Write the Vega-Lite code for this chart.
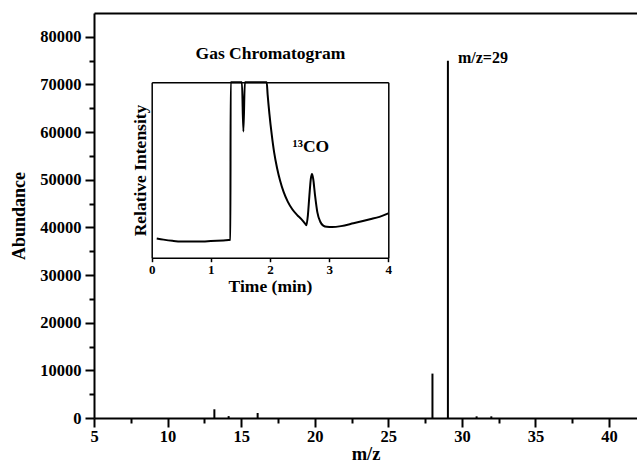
{
  "$schema": "https://vega.github.io/schema/vega-lite/v6.json",
  "autosize": "none",
  "width": 543,
  "height": 405,
  "padding": {"left": 94, "top": 13, "right": 0, "bottom": 51},
  "background": "white",
  "config": {
    "font": "Liberation Serif",
    "view": {"stroke": null},
    "axis": {
      "labelFont": "Liberation Serif",
      "titleFont": "Liberation Serif",
      "labelFontWeight": "bold",
      "titleFontWeight": "bold",
      "labelColor": "black",
      "titleColor": "black",
      "domainColor": "black",
      "tickColor": "black",
      "grid": false,
      "labelOverlap": false,
      "labelFlush": false
    }
  },
  "datasets": {
    "spectrum": [
      {"mz": 13.18, "abundance": 1830},
      {"mz": 14.15, "abundance": 400},
      {"mz": 16.12, "abundance": 1050},
      {"mz": 28.0, "abundance": 9320},
      {"mz": 29.05, "abundance": 75000},
      {"mz": 31.0, "abundance": 350},
      {"mz": 32.0, "abundance": 350}
    ],
    "chromatogram": [
      {"t": 0.085, "i": 11.0},
      {"t": 0.2, "i": 10.3},
      {"t": 0.35, "i": 9.6},
      {"t": 0.5, "i": 9.2},
      {"t": 0.7, "i": 9.2},
      {"t": 0.9, "i": 9.3},
      {"t": 1.1, "i": 9.6},
      {"t": 1.3, "i": 10.1},
      {"t": 1.33, "i": 10.2},
      {"t": 1.335, "i": 100},
      {"t": 1.525, "i": 100},
      {"t": 1.55, "i": 72},
      {"t": 1.575, "i": 100},
      {"t": 1.944, "i": 100},
      {"t": 1.96, "i": 93},
      {"t": 1.99, "i": 82},
      {"t": 2.03, "i": 70},
      {"t": 2.07, "i": 60},
      {"t": 2.12, "i": 51},
      {"t": 2.17, "i": 44},
      {"t": 2.23, "i": 37.5},
      {"t": 2.3, "i": 32},
      {"t": 2.38, "i": 27.5},
      {"t": 2.46, "i": 24.3},
      {"t": 2.53, "i": 22},
      {"t": 2.59, "i": 19.6},
      {"t": 2.615, "i": 18.5},
      {"t": 2.64, "i": 24},
      {"t": 2.665, "i": 35},
      {"t": 2.69, "i": 45},
      {"t": 2.71, "i": 47.7},
      {"t": 2.73, "i": 45},
      {"t": 2.76, "i": 36},
      {"t": 2.8, "i": 26},
      {"t": 2.85, "i": 20.5},
      {"t": 2.9, "i": 18.3},
      {"t": 2.96, "i": 17.6},
      {"t": 3.05, "i": 17.5},
      {"t": 3.2, "i": 18.0},
      {"t": 3.41, "i": 19.6},
      {"t": 3.69, "i": 21.9},
      {"t": 3.85, "i": 23.3},
      {"t": 4.0, "i": 25.3}
    ]
  },
  "resolve": {"scale": {"x": "independent", "y": "independent"}, "axis": {"x": "independent", "y": "independent"}},
  "layer": [
    {
      "data": {"name": "spectrum"},
      "mark": {"type": "rule", "color": "black", "strokeWidth": 2},
      "encoding": {
        "x": {
          "field": "mz", "type": "quantitative",
          "scale": {"domain": [5, 41.9], "nice": false, "zero": false},
          "axis": {
            "orient": "bottom",
            "values": [5, 7.5, 10, 12.5, 15, 17.5, 20, 22.5, 25, 27.5, 30, 32.5, 35, 37.5, 40],
            "format": "d",
            "labelExpr": "datum.value % 5 === 0 ? datum.label : ''",
            "tickSize": {"condition": {"test": "datum.value % 5 === 0", "value": 9}, "value": 5},
            "tickWidth": 2,
            "domainWidth": 2,
            "labelFontSize": 16.5,
            "labelPadding": 1,
            "title": "m/z",
            "titleFontSize": 18.5,
            "titlePadding": 0
          }
        },
        "y": {
          "field": "abundance", "type": "quantitative",
          "scale": {"domain": [0, 85000], "nice": false},
          "axis": {
            "orient": "left",
            "values": [0, 5000, 10000, 15000, 20000, 25000, 30000, 35000, 40000, 45000, 50000, 55000, 60000, 65000, 70000, 75000, 80000],
            "format": "d",
            "labelExpr": "datum.value % 10000 === 0 ? datum.label : ''",
            "tickSize": {"condition": {"test": "datum.value % 10000 === 0", "value": 9}, "value": 5},
            "tickWidth": 2,
            "domainWidth": 2,
            "labelFontSize": 16.5,
            "labelPadding": 4,
            "title": "Abundance",
            "titleFontSize": 18,
            "titlePadding": 11
          }
        },
        "y2": {"datum": 0}
      }
    },
    {
      "data": {"values": [{}]},
      "mark": {"type": "text", "text": "m/z=29", "align": "left", "baseline": "alphabetic", "dx": 10, "dy": 2, "font": "Liberation Serif", "fontWeight": "bold", "fontSize": 16, "color": "black"},
      "encoding": {
        "x": {
          "datum": 29.05, "type": "quantitative",
          "scale": {"domain": [5, 41.9], "nice": false, "zero": false},
          "axis": {"orient": "top", "ticks": false, "labels": false, "title": null, "domainWidth": 2}
        },
        "y": {
          "datum": 75000, "type": "quantitative",
          "scale": {"domain": [0, 85000], "nice": false},
          "axis": null
        }
      }
    },
    {
      "data": {"name": "chromatogram"},
      "mark": {"type": "line", "color": "black", "strokeWidth": 2, "interpolate": "monotone"},
      "encoding": {
        "x": {
          "field": "t", "type": "quantitative",
          "scale": {"domain": [0, 4], "range": [57.7, 294.3], "nice": false, "zero": false},
          "axis": {
            "orient": "bottom",
            "offset": -160.3,
            "values": [0, 0.5, 1, 1.5, 2, 2.5, 3, 3.5, 4],
            "format": "d",
            "labelExpr": "datum.value % 1 === 0 ? datum.label : ''",
            "tickSize": {"condition": {"test": "datum.value % 1 === 0", "value": 4}, "value": 3},
            "tickWidth": 1.5,
            "domainWidth": 1.5,
            "labelFontSize": 13,
            "labelPadding": 2,
            "title": "Time (min)",
            "titleFontSize": 17.5,
            "titlePadding": 1
          }
        },
        "y": {
          "field": "i", "type": "quantitative",
          "scale": {"domain": [0, 100], "range": [244.7, 69.3], "nice": false},
          "axis": {
            "orient": "left",
            "offset": -57.7,
            "ticks": false,
            "labels": false,
            "domainWidth": 1.5,
            "title": "Relative Intensity",
            "titleFontSize": 17.5,
            "titlePadding": 2
          }
        }
      }
    },
    {
      "data": {"values": [{}]},
      "mark": {"type": "text", "text": "¹³CO", "align": "left", "baseline": "alphabetic", "font": "Liberation Serif", "fontWeight": "bold", "fontSize": 17.5, "color": "black"},
      "encoding": {
        "x": {
          "datum": 2.38, "type": "quantitative",
          "scale": {"domain": [0, 4], "range": [57.7, 294.3], "nice": false, "zero": false},
          "axis": {
            "orient": "top",
            "offset": -69.3,
            "ticks": false,
            "labels": false,
            "domainWidth": 1.5,
            "title": "Gas Chromatogram",
            "titleFontSize": 17.5,
            "titlePadding": 20
          }
        },
        "y": {
          "datum": 60, "type": "quantitative",
          "scale": {"domain": [0, 100], "range": [244.7, 69.3], "nice": false},
          "axis": {
            "orient": "right",
            "offset": -248.7,
            "ticks": false,
            "labels": false,
            "domainWidth": 1.5,
            "title": null
          }
        }
      }
    }
  ]
}
